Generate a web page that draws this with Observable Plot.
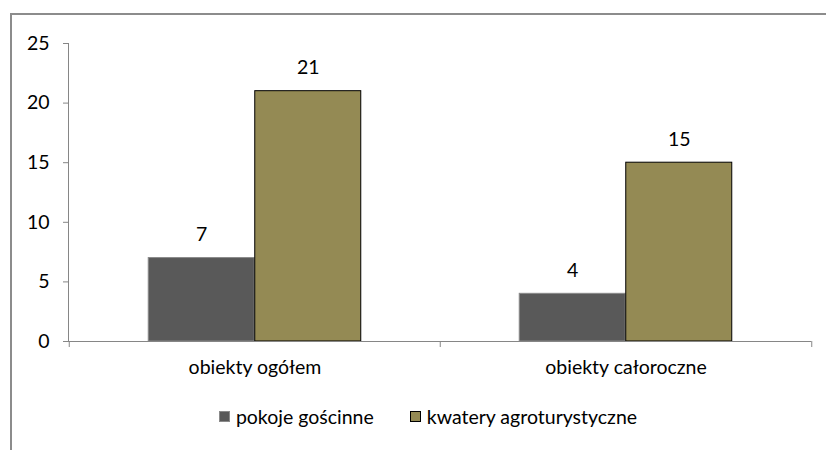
<!DOCTYPE html>
<html>
<head>
<meta charset="utf-8">
<script src="https://cdn.jsdelivr.net/npm/d3@7"></script>
<script src="https://cdn.jsdelivr.net/npm/@observablehq/plot@0.6"></script>
<style>
  html, body { margin: 0; padding: 0; background: #fff; }
  #wrap { position: relative; width: 826px; height: 450px; overflow: hidden; font-family: Lato, sans-serif; }
  #border { position: absolute; left: 10px; top: 13px; width: 900px; height: 600px; border: 2px solid #8c8c8c; box-sizing: border-box; }
  #chart { position: absolute; left: 0; top: 0; }
  #legend { position: absolute; left: 0; top: 405px; width: 826px; box-sizing: border-box; padding-left: 30px; display: flex; justify-content: center; gap: 36px; font-size: 19.5px; color: #000; }
  .item { display: flex; align-items: center; }
  .sw { width: 11px; height: 11px; margin-right: 6px; box-sizing: border-box; }
</style>
</head>
<body>
<div id="wrap">
  <div id="border"></div>
  <div id="chart"></div>
  <div id="legend"></div>
</div>
<script>
const categories = ["obiekty ogółem", "obiekty całoroczne"];
const series = ["pokoje gościnne", "kwatery agroturystyczne"];
const pokojeValues = [7, 4];
const kwateryValues = [21, 15];
const yTicks = [0, 5, 10, 15, 20, 25];
const colors = ["#595959", "#948A54"];
const strokes = ["#8a8a8a", "#000000"];

const W = 826, H = 450, ML = 68, MR = 15, MT = 43, MB = 109;
const step = (W - ML - MR) / categories.length;
const groupPad = 0.744; // outer padding in bar widths
const barW = step / (series.length + 2 * groupPad);
const outer = groupPad * barW;

const valuesBySeries = [pokojeValues, kwateryValues];
const data = [];
series.forEach((s, i) => categories.forEach((c, j) => data.push({category: c, series: s, value: valuesBySeries[i][j], si: i})));

const axisColor = "#868686";
const font = "Lato, sans-serif";
const fs = 19.5;

const marks = [];
series.forEach((s, i) => {
  const d = data.filter(r => r.si === i);
  marks.push(Plot.barY(d, {
    x: "category", y: "value", fill: "series",
    stroke: strokes[i], strokeWidth: 1,
    insetLeft: outer + i * barW,
    insetRight: step - outer - (i + 1) * barW
  }));
  marks.push(Plot.text(d, {
    x: "category", y: "value", text: r => String(r.value),
    dx: -step / 2 + outer + (i + 0.5) * barW, dy: -23,
    fontSize: fs, fill: "#000", lineAnchor: "middle"
  }));
});

marks.push(Plot.ruleY([0], {stroke: axisColor}));
marks.push(Plot.frame({anchor: "left", stroke: axisColor}));
marks.push(Plot.axisY({ticks: yTicks, tickSize: 5, tickPadding: 14, stroke: axisColor, fill: "#000", fontSize: fs, tickFormat: d => String(d)}));
marks.push(Plot.axisX({tickSize: 0, tickPadding: 19, fontSize: fs, fill: "#000", label: null}));
marks.push(Plot.axisX({ticks: categories, tickSize: 6, dx: -step / 2, tickFormat: () => "", stroke: axisColor, label: null}));
marks.push(Plot.axisX({ticks: categories.slice(-1), tickSize: 6, dx: step / 2, tickFormat: () => "", stroke: axisColor, label: null}));

const chart = Plot.plot({
  width: W, height: H,
  marginLeft: ML, marginRight: MR, marginTop: MT, marginBottom: MB,
  style: {fontFamily: font, background: "transparent", overflow: "visible"},
  x: {domain: categories, padding: 0, label: null},
  y: {domain: [0, 25], label: null},
  color: {domain: series, range: colors},
  marks
});
document.getElementById("chart").appendChild(chart);

const legend = document.getElementById("legend");
series.forEach((s, i) => {
  const item = document.createElement("div");
  item.className = "item";
  const sw = document.createElement("span");
  sw.className = "sw";
  sw.style.background = colors[i];
  sw.style.border = "1px solid " + strokes[i];
  const t = document.createElement("span");
  t.textContent = s;
  item.appendChild(sw); item.appendChild(t);
  legend.appendChild(item);
});
</script>
</body>
</html>
